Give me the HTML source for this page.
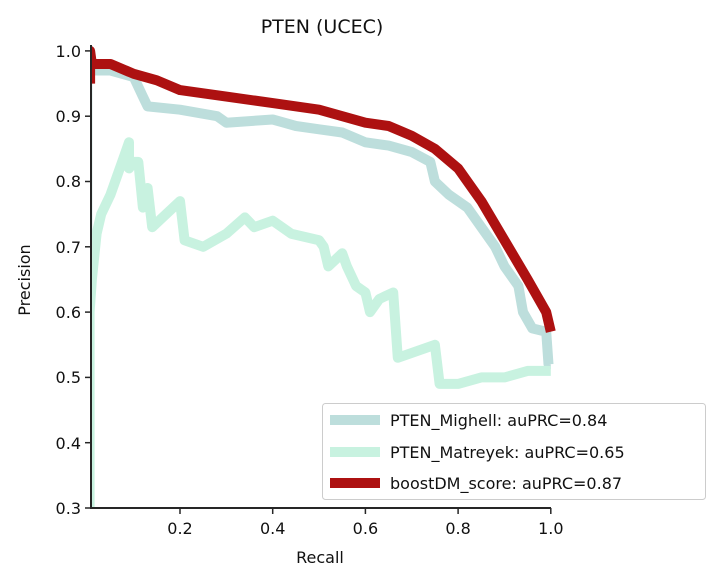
<!DOCTYPE html>
<html><head><meta charset="utf-8"><style>
body{margin:0;background:#fff}
svg{display:block;font-family:"DejaVu Sans","Liberation Sans",sans-serif}
</style></head><body>
<svg id="s" width="720" height="586" viewBox="0 0 720 586">
<defs><clipPath id="c"><rect x="91" y="40" width="470" height="468"/></clipPath></defs>
<rect width="720" height="586" fill="#fff"/>
<g id="lines" fill="none" stroke-linejoin="round" stroke-linecap="butt" clip-path="url(#c)"></g>
<line x1="91" y1="45" x2="91" y2="509" stroke="#262626" stroke-width="2"/>
<line x1="90" y1="508" x2="551" y2="508" stroke="#262626" stroke-width="2"/>
<g stroke="#262626" stroke-width="1.5">
<line x1="85" y1="50.9" x2="91" y2="50.9"/><line x1="85" y1="116.2" x2="91" y2="116.2"/>
<line x1="85" y1="181.5" x2="91" y2="181.5"/><line x1="85" y1="246.8" x2="91" y2="246.8"/>
<line x1="85" y1="312.1" x2="91" y2="312.1"/><line x1="85" y1="377.4" x2="91" y2="377.4"/>
<line x1="85" y1="442.7" x2="91" y2="442.7"/><line x1="85" y1="508" x2="91" y2="508"/>
<line x1="180" y1="508" x2="180" y2="514"/><line x1="272.7" y1="508" x2="272.7" y2="514"/>
<line x1="365.4" y1="508" x2="365.4" y2="514"/><line x1="458.1" y1="508" x2="458.1" y2="514"/>
<line x1="550.8" y1="508" x2="550.8" y2="514"/>
</g>
<g font-size="16" fill="#111" text-anchor="end">
<text x="81" y="57">1.0</text><text x="81" y="122">0.9</text><text x="81" y="187">0.8</text>
<text x="81" y="253">0.7</text><text x="81" y="318">0.6</text><text x="81" y="383">0.5</text>
<text x="81" y="449">0.4</text><text x="81" y="514">0.3</text>
</g>
<g font-size="16" fill="#111" text-anchor="middle">
<text x="180" y="534">0.2</text><text x="272.7" y="534">0.4</text><text x="365.4" y="534">0.6</text>
<text x="458.1" y="534">0.8</text><text x="550.8" y="534">1.0</text>
<text x="320" y="563">Recall</text>
<text x="322" y="33" font-size="19">PTEN (UCEC)</text>
<text x="0" y="0" transform="translate(30,280) rotate(-90)">Precision</text>
</g>
<rect x="322.5" y="403.5" width="383" height="96" rx="3" fill="#fff" fill-opacity="0.85" stroke="#ccc"/>
<line x1="330" y1="420" x2="380" y2="420" stroke="#bddedc" stroke-width="10"/>
<line x1="330" y1="452" x2="380" y2="452" stroke="#c8f2e0" stroke-width="10"/>
<line x1="330" y1="483" x2="380" y2="483" stroke="#ad1111" stroke-width="10"/>
<g font-size="16" fill="#111">
<text x="390" y="426">PTEN_Mighell: auPRC=0.84</text>
<text x="390" y="458">PTEN_Matreyek: auPRC=0.65</text>
<text x="390" y="489">boostDM_score: auPRC=0.87</text>
</g>
</svg>
<script>
function X(r){return 87.3+463.5*r}function Y(p){return 508-(p-0.3)*653}
var mig=[[0,0.3],[0,0.97],[0.05,0.97],[0.1,0.96],[0.12,0.93],[0.13,0.915],[0.2,0.91],[0.28,0.9],[0.3,0.89],[0.4,0.895],[0.45,0.885],[0.5,0.88],[0.55,0.875],[0.6,0.86],[0.65,0.855],[0.7,0.845],[0.74,0.83],[0.75,0.8],[0.78,0.78],[0.82,0.76],[0.85,0.73],[0.88,0.7],[0.9,0.67],[0.93,0.64],[0.94,0.6],[0.96,0.575],[0.99,0.57],[0.995,0.52],[1.0,0.52]];
var mat=[[0.005,0.3],[0.005,0.6],[0.01,0.65],[0.02,0.72],[0.03,0.75],[0.05,0.78],[0.08,0.84],[0.09,0.86],[0.09,0.82],[0.1,0.83],[0.11,0.83],[0.12,0.76],[0.13,0.79],[0.14,0.73],[0.2,0.77],[0.21,0.71],[0.25,0.7],[0.3,0.72],[0.34,0.745],[0.36,0.73],[0.4,0.74],[0.44,0.72],[0.5,0.71],[0.51,0.7],[0.52,0.67],[0.55,0.69],[0.56,0.67],[0.58,0.64],[0.6,0.63],[0.61,0.6],[0.63,0.62],[0.66,0.63],[0.67,0.53],[0.75,0.55],[0.76,0.49],[0.8,0.49],[0.85,0.5],[0.9,0.5],[0.95,0.51],[1.0,0.51]];
var bst=[[0.006,0.95],[0.006,1.0],[0.01,0.98],[0.05,0.98],[0.1,0.965],[0.15,0.955],[0.2,0.94],[0.3,0.93],[0.4,0.92],[0.5,0.91],[0.6,0.89],[0.65,0.885],[0.7,0.87],[0.75,0.85],[0.8,0.82],[0.85,0.77],[0.9,0.71],[0.95,0.65],[0.99,0.6],[1.0,0.57]];
var g=document.getElementById('lines');
[[mig,'#bddedc'],[mat,'#c8f2e0'],[bst,'#ad1111']].forEach(function(s){
var p=document.createElementNS('http://www.w3.org/2000/svg','polyline');
p.setAttribute('points',s[0].map(function(a){return X(a[0]).toFixed(1)+','+Y(a[1]).toFixed(1)}).join(' '));
p.setAttribute('stroke',s[1]);p.setAttribute('stroke-width','10');g.appendChild(p);});
</script>
</body></html>
